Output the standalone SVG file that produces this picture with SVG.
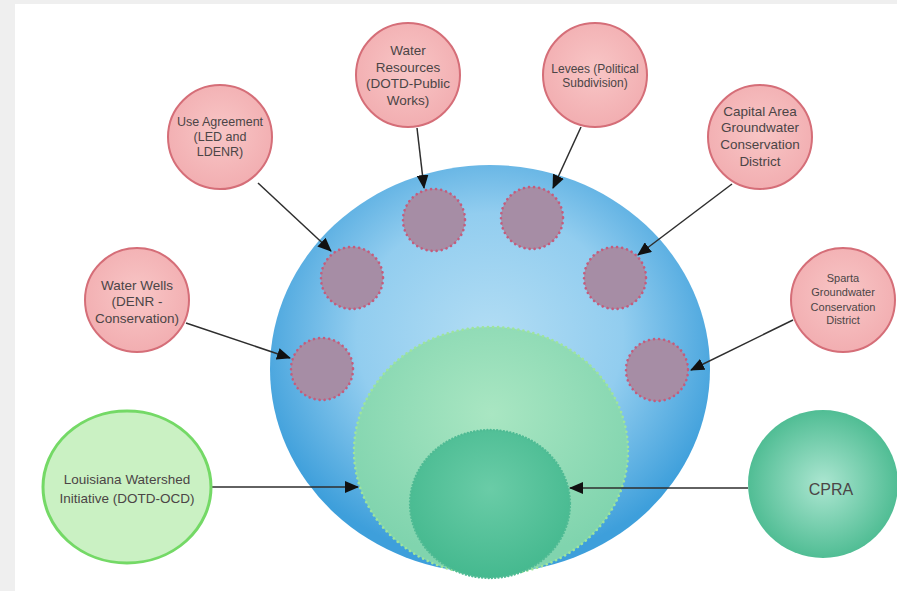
<svg xmlns="http://www.w3.org/2000/svg" width="897" height="591" viewBox="0 0 897 591">
<defs>
<style>
.pink{fill:url(#gPink);stroke:#d56e78;stroke-width:2}
.dot{fill:#a68da5;stroke:#c45c7c;stroke-width:2.6;stroke-dasharray:0.1 5;stroke-linecap:round}
.t{font-family:"Liberation Sans",Arial,sans-serif;fill:#4b4546;text-anchor:middle}
.conn{stroke:#2e2e2e;stroke-width:1.5;fill:none;marker-end:url(#ah)}
</style>
<radialGradient id="gPink" cx="50%" cy="45%" r="55%">
<stop offset="0" stop-color="#f8c6c6"/><stop offset="1" stop-color="#f2aeb1"/>
</radialGradient>
<radialGradient id="gBlue" cx="50%" cy="42%" r="55%">
<stop offset="0" stop-color="#b2ddf4"/><stop offset="0.55" stop-color="#92cdef"/><stop offset="1" stop-color="#3e9fdb"/>
</radialGradient>
<radialGradient id="gLg" cx="50%" cy="35%" r="60%">
<stop offset="0" stop-color="#a9e6c2"/><stop offset="1" stop-color="#80d4ae"/>
</radialGradient>
<radialGradient id="gDg" cx="50%" cy="40%" r="60%">
<stop offset="0" stop-color="#6acca7"/><stop offset="1" stop-color="#45b98f"/>
</radialGradient>
<radialGradient id="gCpra" cx="50%" cy="50%" r="55%">
<stop offset="0" stop-color="#ace6d1"/><stop offset="1" stop-color="#47b98e"/>
</radialGradient>
<marker id="ah" markerWidth="14" markerHeight="12" refX="13" refY="6" orient="auto" markerUnits="userSpaceOnUse">
<path d="M0,0 L14,6 L0,12 z" fill="#111"/>
</marker>
</defs>
<rect x="0" y="0" width="897" height="591" fill="#efefef"/>
<rect x="15" y="4" width="882" height="587" fill="#ffffff"/>

<g id="main-circle">
<ellipse cx="490" cy="369" rx="220" ry="204" fill="url(#gBlue)"/>
</g>
<g id="inner-green">
<ellipse cx="491" cy="451" rx="137" ry="124" fill="url(#gLg)" stroke="#9fe49c" stroke-width="2.6" stroke-dasharray="0.1 5" stroke-linecap="round"/>
</g>
<g id="inner-teal">
<ellipse cx="490" cy="504" rx="80" ry="74" fill="url(#gDg)" stroke="#4fbb94" stroke-width="2.4" stroke-dasharray="0.1 3.2" stroke-linecap="round"/>
</g>
<g id="slots">
<circle class="dot" cx="434" cy="220" r="31"/>
<circle class="dot" cx="532" cy="218" r="31"/>
<circle class="dot" cx="352" cy="278" r="31"/>
<circle class="dot" cx="615" cy="278" r="31"/>
<circle class="dot" cx="322" cy="369" r="31"/>
<circle class="dot" cx="657" cy="370" r="31"/>
</g>

<g id="connectors">
<line class="conn" x1="258" y1="183" x2="331" y2="251"/>
<line class="conn" x1="417" y1="128" x2="424" y2="188"/>
<line class="conn" x1="581" y1="127" x2="553" y2="188"/>
<line class="conn" x1="732" y1="184" x2="638" y2="255"/>
<line class="conn" x1="186" y1="323" x2="290" y2="358"/>
<line class="conn" x1="793" y1="320" x2="691" y2="370"/>
<line class="conn" x1="212" y1="487" x2="358" y2="487"/>
<line class="conn" x1="748" y1="488" x2="570" y2="488" stroke="#555"/>
</g>

<g id="use-agreement">
<circle class="pink" cx="220" cy="137" r="52"/>
<text class="t" font-size="12.5"><tspan x="220" y="126">Use Agreement</tspan><tspan x="220" y="141">(LED and</tspan><tspan x="220" y="156">LDENR)</tspan></text>
</g>
<g id="water-resources">
<circle class="pink" cx="408" cy="75" r="52"/>
<text class="t" font-size="13.5"><tspan x="408" y="55">Water</tspan><tspan x="408" y="72">Resources</tspan><tspan x="408" y="88">(DOTD-Public</tspan><tspan x="408" y="105">Works)</tspan></text>
</g>
<g id="levees">
<circle class="pink" cx="595" cy="75" r="52"/>
<text class="t" font-size="12"><tspan x="595" y="73">Levees (Political</tspan><tspan x="595" y="87">Subdivision)</tspan></text>
</g>
<g id="capital-area">
<circle class="pink" cx="760" cy="137" r="52"/>
<text class="t" font-size="13.5"><tspan x="760" y="116">Capital Area</tspan><tspan x="760" y="132">Groundwater</tspan><tspan x="760" y="149">Conservation</tspan><tspan x="760" y="166">District</tspan></text>
</g>
<g id="water-wells">
<circle class="pink" cx="137" cy="300" r="52"/>
<text class="t" font-size="13.5"><tspan x="137" y="290">Water Wells</tspan><tspan x="137" y="306">(DENR -</tspan><tspan x="137" y="323">Conservation)</tspan></text>
</g>
<g id="sparta">
<circle class="pink" cx="843" cy="300" r="52"/>
<text class="t" font-size="11"><tspan x="843" y="282">Sparta</tspan><tspan x="843" y="296">Groundwater</tspan><tspan x="843" y="311">Conservation</tspan><tspan x="843" y="324">District</tspan></text>
</g>
<g id="louisiana-watershed">
<ellipse cx="127" cy="487" rx="84" ry="76" fill="#caf1c3" stroke="#74d966" stroke-width="3"/>
<text class="t" font-size="13.5"><tspan x="127" y="484">Louisiana Watershed</tspan><tspan x="127" y="503">Initiative (DOTD-OCD)</tspan></text>
</g>
<g id="cpra">
<ellipse cx="823" cy="484" rx="75" ry="74" fill="url(#gCpra)"/>
<text class="t" font-size="16" x="831" y="495">CPRA</text>
</g>
</svg>
